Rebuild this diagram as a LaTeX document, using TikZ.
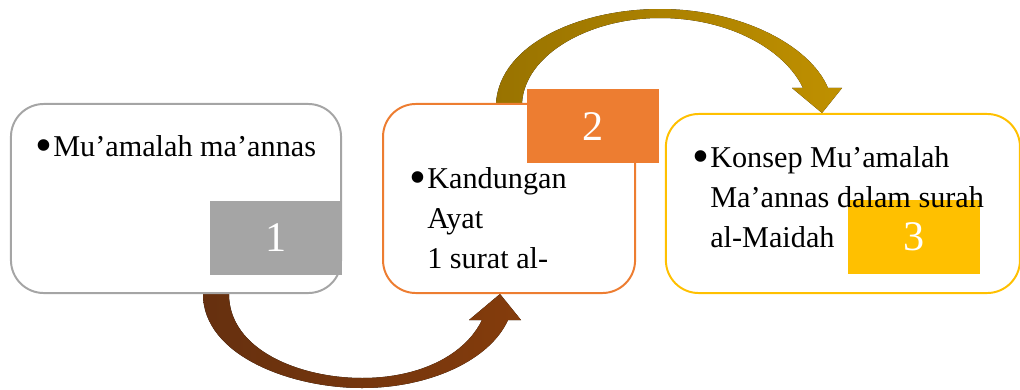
\documentclass[tikz,border=0pt]{standalone}
\usepackage{fontspec}
\setmainfont{Liberation Serif}
\usepackage{xcolor}
\usepackage{graphicx}
\usetikzlibrary{positioning,calc}

\definecolor{abu}{HTML}{A5A5A5}
\definecolor{oranye}{HTML}{ED7D31}
\definecolor{kuning}{HTML}{FFC000}
\definecolor{coklat}{HTML}{843C0C}
\definecolor{coklatgelap}{HTML}{66300F}
\definecolor{emas}{HTML}{BF9000}
\definecolor{emasgelap}{HTML}{997300}

\pgfdeclarelayer{background}
\pgfsetlayers{background,main}

\newcommand{\butir}{\llap{\makebox[0.45cm][l]{\raisebox{-0.16em}{\scalebox{1.6}{\textbullet}}}}}

\begin{document}
\begin{tikzpicture}[
			x=0.025cm, y=-0.025cm,
			kotak/.style={draw, fill=white, rectangle, rounded corners=0.82cm, line width=1.4pt, inner sep=0pt, minimum height=4.725cm},
			nomor/.style={rectangle, inner sep=0pt, text=white, font=\fontsize{30}{36}\selectfont, minimum width=3.3cm, minimum height=1.84cm},
			isi/.style={anchor=north west, inner sep=0pt, align=left, font=\fontsize{21.5}{28.4}\selectfont},
			panah1/.style={left color=coklatgelap, right color=coklat},
			panah2/.style={left color=emasgelap, right color=emas}
			]
			\useasboundingbox (0,0) rectangle (1020,389);
			
			% Nodes
			\node (kotak1) [kotak, draw=abu, minimum width=8.25cm] at (176,198.5) {};
			\node (kotak2) [kotak, draw=oranye, minimum width=6.3cm, right=1.0cm of kotak1] {};
			\node (kotak3) [kotak, draw=kuning, minimum width=8.85cm, minimum height=4.475cm, right=0.72cm of kotak2, yshift=-0.125cm] {};
			
			\node (nomor1) [nomor, fill=abu, anchor=south east] at ($(kotak1.south east)+(0,-19)$) {1};
			\node (nomor2) [nomor, fill=oranye, anchor=north east] at ($(kotak2.north east)+(23,-14)$) {2};
			\node (nomor3) [nomor, fill=kuning, anchor=south east] at ($(kotak3.south east)+(-41,-20)$) {3};
			
			\node (teks1) [isi] at (53,135.5) {\butir Mu’amalah ma’annas};
			\node (teks2) [isi] at (427,167.5) {\butir Kandungan\\ Ayat\\ 1 surat al-};
			\node (teks3) [isi] at (710,146.5) {\butir Konsep Mu’amalah\\ Ma’annas dalam surah\\ al-Maidah};
			
			% Connections
			\coordinate (ekor1) at (kotak1.south -| 216,0);
			\coordinate (ujung1) at (kotak2.south -| 500,0);
			\coordinate (ekor2) at (kotak2.north -| 509,0);
			\coordinate (ujung2) at (kotak3.north -| 822,0);
			
			\begin{pgfonlayer}{background}
			\fill [panah1] ($(ekor1)+(-13,0)$) .. controls +(0,61) and (290,388) .. (362,388)
				.. controls (430,388) and (490,360) .. ($(ujung1)+(8,26)$) -- ++(13,0) -- (ujung1)
				-- ($(ujung1)+(-31,26)$) -- ++(13,0)
				.. controls (465,355) and (420,378) .. (362,378)
				.. controls (300,378) and ($(ekor1)+(13,56)$) .. ($(ekor1)+(13,0)$) -- cycle;
			\fill [panah2] ($(ekor2)+(-13,0)$) .. controls +(4,-59) and (580,9) .. (660,9)
				.. controls (740,9) and (810,45) .. ($(ujung2)+(6,-25)$) -- ++(14,0) -- (ujung2)
				-- ($(ujung2)+(-30,-25)$) -- ++(11,0)
				.. controls (785,50) and (730,18) .. (660,18)
				.. controls (590,18) and ($(ekor2)+(16,-49)$) .. ($(ekor2)+(13,0)$) -- cycle;
			\end{pgfonlayer}
			
		\end{tikzpicture}
\end{document}
